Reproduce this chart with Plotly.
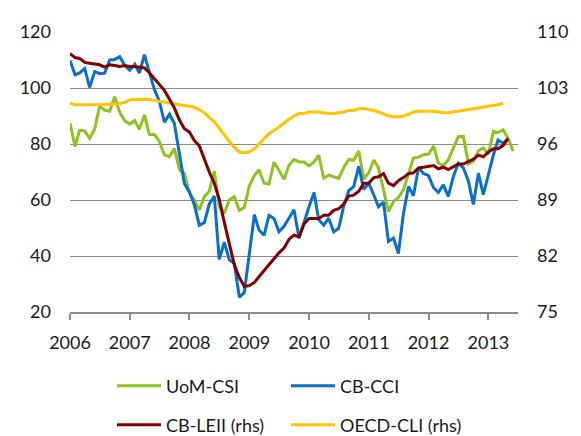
import pandas as pd
import plotly.graph_objects as go

# ---- data (monthly) ----
uom_csi = [87.4, 79.1, 84.9, 84.7, 82.0, 85.4, 93.6, 92.1, 91.7,
           96.9, 91.3, 88.4, 87.1, 88.3, 85.3, 90.4, 83.4, 83.4, 80.9, 76.1, 75.5,
           78.4, 70.8, 69.5, 62.6, 59.8, 56.4, 61.2, 63.0, 70.3, 57.6, 55.3, 60.1,
           61.2, 56.3, 57.3, 65.1, 68.7, 70.8, 66.0, 65.7, 73.5, 70.6, 67.4, 72.5,
           74.4, 73.6, 73.6, 72.2, 73.6, 76.0, 67.8, 68.9, 68.2, 67.7, 71.6, 74.5,
           74.2, 77.5, 67.5, 69.8, 74.3, 71.5, 63.7, 55.8, 59.5, 60.8, 63.7, 69.9,
           75.0, 75.3, 76.2, 76.4, 79.3, 73.2, 72.3, 74.3, 78.3, 82.6, 82.7, 72.9,
           73.8, 77.6, 78.6, 76.4, 84.5, 84.1, 85.1, 82.1, 77.5]

cb_cci = [109.8, 104.7, 105.4, 107.0, 100.2, 105.9, 105.1, 105.3, 110.0,
          110.2, 111.2, 108.2, 106.3, 108.5, 105.3, 111.9, 105.6, 99.5, 95.2, 87.8, 90.6,
          87.3, 76.4, 65.9, 62.8, 58.1, 51.0, 51.9, 58.5, 61.4, 38.8, 44.9, 38.6,
          37.4, 25.3, 26.9, 40.8, 54.8, 49.3, 47.4, 54.5, 53.4, 48.7, 50.6, 53.6,
          56.5, 46.4, 52.3, 57.7, 62.7, 52.9, 51.0, 53.5, 48.6, 49.9, 57.8, 63.4,
          64.8, 72.0, 63.8, 66.0, 61.7, 57.6, 59.2, 45.2, 46.4, 40.9, 55.2, 64.8,
          61.5, 71.6, 69.5, 68.7, 64.4, 62.7, 65.4, 61.3, 68.4, 73.1, 71.5, 66.7,
          58.4, 69.6, 61.9, 69.0, 76.2, 81.4, 80.3, 81.8]

cb_leii = [107.3, 106.8, 106.7, 106.2, 106.1, 106.0, 105.9, 105.6, 105.9, 105.8,
           105.7, 105.8, 105.7, 105.7, 105.6, 105.5, 104.9, 104.2, 103.5, 102.7,
           101.6, 100.5, 99.0, 97.9, 97.5, 96.4, 95.8, 94.0, 92.5, 91.1,
           89.1, 86.2, 83.4, 80.9, 79.3, 78.2, 78.3, 78.7, 79.4, 80.2,
           80.9, 81.7, 82.4, 83.0, 84.1, 84.6, 84.4, 86.0, 86.7, 86.7,
           86.7, 87.1, 87.1, 87.7, 87.9, 88.5, 89.5, 89.6, 90.1, 91.1,
           91.1, 91.8, 91.9, 92.3, 91.1, 90.8, 91.4, 91.8, 92.3, 92.4,
           93.0, 93.1, 93.2, 93.3, 92.9, 93.1, 92.8, 93.2, 93.5, 93.5,
           93.8, 94.1, 94.6, 94.4, 95.0, 95.4, 95.4, 95.8, 96.7]

oecd_cli = [101.1, 100.9, 100.9, 100.9, 100.9, 100.9, 100.9, 100.95, 101.0, 101.0,
            101.05, 101.2, 101.5, 101.6, 101.6, 101.6, 101.55, 101.45, 101.35, 101.2,
            101.05, 100.95, 100.9, 100.75, 100.7, 100.6, 100.3, 99.9, 99.3, 98.8,
            98.0, 97.1, 96.3, 95.6, 95.0, 94.9, 95.0, 95.4, 96.0, 96.7,
            97.3, 97.7, 98.2, 98.6, 99.1, 99.5, 99.8, 99.8, 100.0, 100.0,
            100.0, 99.9, 99.8, 99.8, 99.9, 100.0, 100.2, 100.2, 100.4, 100.45,
            100.3, 100.2, 100.0, 99.8, 99.5, 99.4, 99.4, 99.5, 99.7, 100.0,
            100.1, 100.1, 100.1, 100.1, 100.0, 99.9, 99.9, 100.0, 100.1, 100.2,
            100.3, 100.45, 100.5, 100.6, 100.75, 100.85, 100.9, 101.1]

year_labels = ["2006", "2007", "2008", "2009", "2010", "2011", "2012", "2013"]
left_ticks = [20, 40, 60, 80, 100, 120]
right_ticks = [75, 82, 89, 96, 103, 110]

START = "2006-01-01"


def months(n):
    return pd.date_range(START, periods=n, freq="MS")


FONT = "Lato"
TXT = "#1a1a1a"
FS = 18

# page body has an 8px default margin: figure sized to fit the 581x436 window
OFF = 8
W, H = 581 - OFF, 436 - OFF

fig = go.Figure()
# yellow drawn first (underneath), legend slots fixed separately
fig.add_trace(go.Scatter(x=months(len(oecd_cli)), y=oecd_cli, name="OECD-CLI (rhs)",
                         mode="lines", line=dict(color="#FFC400", width=3),
                         yaxis="y2", legend="legend4"))
fig.add_trace(go.Scatter(x=months(len(uom_csi)), y=uom_csi, name="UoM-CSI",
                         mode="lines", line=dict(color="#8DC21F", width=3),
                         legend="legend"))
fig.add_trace(go.Scatter(x=months(len(cb_cci)), y=cb_cci, name="CB-CCI",
                         mode="lines", line=dict(color="#0A6FC8", width=3),
                         legend="legend2"))
fig.add_trace(go.Scatter(x=months(len(cb_leii)), y=cb_leii, name="CB-LEII (rhs)",
                         mode="lines", line=dict(color="#800000", width=3),
                         yaxis="y2", legend="legend3"))

leg_common = dict(orientation="h", xref="container", yref="container",
                  xanchor="left", yanchor="middle", bgcolor="rgba(0,0,0,0)",
                  font=dict(family=FONT, size=FS, color=TXT),
                  itemwidth=44)
COL1, COL2 = 112 - OFF, 286 - OFF
ROW1, ROW2 = 386 - OFF, 425 - OFF

fig.update_layout(
    width=W, height=H,
    margin=dict(l=62 - OFF, r=63, t=26 - OFF, b=124),
    paper_bgcolor="white", plot_bgcolor="white",
    font=dict(family=FONT, size=FS, color=TXT),
    showlegend=True,
    legend=dict(x=COL1 / W, y=1 - ROW1 / H, **leg_common),
    legend2=dict(x=COL2 / W, y=1 - ROW1 / H, **leg_common),
    legend3=dict(x=COL1 / W, y=1 - ROW2 / H, **leg_common),
    legend4=dict(x=COL2 / W, y=1 - ROW2 / H, **leg_common),
    xaxis=dict(
        type="date",
        range=[START, "2013-07-01"],
        tickmode="array",
        tickvals=[f"{y}-01-01" for y in year_labels],
        ticktext=year_labels,
        showgrid=False, zeroline=False,
        showline=True, linecolor="#8a8a8a", linewidth=2,
        ticks="outside", ticklen=6, tickwidth=2, tickcolor="#8a8a8a",
        ticklabelstandoff=7,
        tickfont=dict(family=FONT, size=FS, color=TXT),
    ),
    yaxis=dict(
        range=[20, 120], tickmode="array", tickvals=left_ticks,
        showgrid=True, gridcolor="#8a8a8a", gridwidth=1,
        zeroline=False, showline=False, ticks="",
        ticklabelstandoff=18,
        tickfont=dict(family=FONT, size=FS, color=TXT),
    ),
    yaxis2=dict(
        range=[75, 110], tickmode="array", tickvals=right_ticks,
        overlaying="y", side="right",
        showgrid=True, gridcolor="#8a8a8a", gridwidth=1,
        zeroline=False, showline=False, ticks="",
        ticklabelstandoff=18,
        tickfont=dict(family=FONT, size=FS, color=TXT),
    ),
)

fig.write_html("out.html")
